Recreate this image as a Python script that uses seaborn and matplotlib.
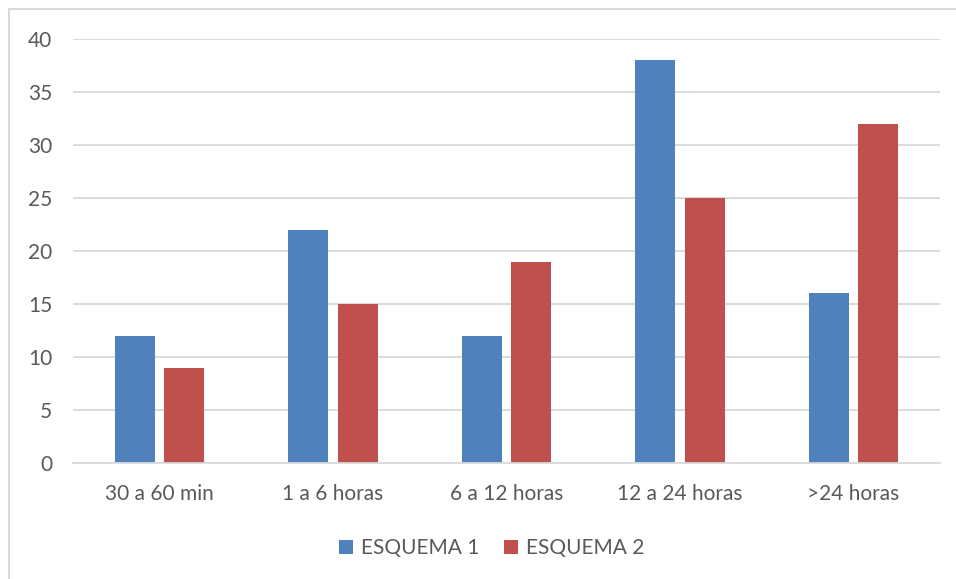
import matplotlib
matplotlib.use("Agg")
import matplotlib.pyplot as plt
import seaborn as sns
import pandas as pd
from matplotlib.patches import Rectangle

categories = ["30 a 60 min", "1 a 6 horas", "6 a 12 horas", "12 a 24 horas", ">24 horas"]
series_names = ["ESQUEMA 1", "ESQUEMA 2"]
esquema1 = [12, 22, 12, 38, 16]
esquema2 = [9, 15, 19, 25, 32]
colors = ["#4F81BD", "#C0504D"]

df = pd.DataFrame({
    "cat": categories * 2,
    "serie": [series_names[0]] * 5 + [series_names[1]] * 5,
    "val": esquema1 + esquema2,
})

sns.set_theme(style="white")
plt.rcParams["font.family"] = ["Lato", "DejaVu Sans"]

fig = plt.figure(figsize=(9.56, 5.79), dpi=100)
ax = fig.add_axes([73/956, 1-463/579, (940-73)/956, (463-39)/579])

sns.barplot(data=df, x="cat", y="val", hue="serie", palette=colors,
            width=0.57, gap=0.19, ax=ax, order=categories, hue_order=series_names,
            saturation=1, legend=True, linewidth=0)

ax.set_ylim(0, 40)
ax.set_yticks(range(0, 41, 5))
ax.set_xlim(-0.5, 4.5)
ax.yaxis.grid(True, color="#D9D9D9", linewidth=1.3)
ax.set_axisbelow(True)
for s in ["top", "right", "left"]:
    ax.spines[s].set_visible(False)
ax.spines["bottom"].set_color("#D9D9D9")
ax.spines["bottom"].set_linewidth(1.3)
ax.set_xlabel("")
ax.set_ylabel("")
ax.tick_params(axis="y", length=0, pad=15, labelsize=15, labelcolor="#595959")
ax.tick_params(axis="x", length=0, pad=15, labelsize=15, labelcolor="#595959")

handles, labels = ax.get_legend_handles_labels()
ax.get_legend().remove()
fig.legend(handles, labels, loc="center", bbox_to_anchor=(492/956, 1-548/579), ncol=2,
           frameon=False, fontsize=15, labelcolor="#595959", handlelength=0.65,
           handleheight=0.65, handletextpad=0.4, columnspacing=1.2)

fig.patches.append(Rectangle((9/956, -0.1), 1.1, 1-9/579+0.1, transform=fig.transFigure,
                             fill=False, edgecolor="#D9D9D9", linewidth=1.5))

fig.savefig("out.png", dpi=100)
